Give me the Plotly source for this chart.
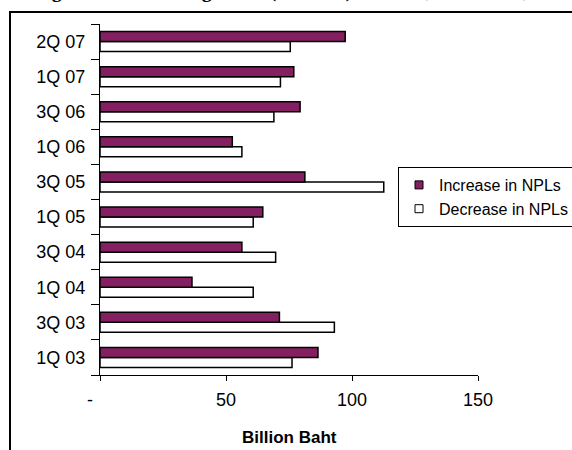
import plotly.graph_objects as go

categories = ["1Q 03", "3Q 03", "1Q 04", "3Q 04", "1Q 05",
              "3Q 05", "1Q 06", "3Q 06", "1Q 07", "2Q 07"]
increase = [86.5, 71.2, 36.5, 56.3, 64.6, 81.3, 52.5, 79.4, 76.9, 97.3]
decrease = [76.2, 93.0, 60.8, 69.7, 60.8, 112.6, 56.3, 69.0, 71.6, 75.5]
x_tickvals = [0, 50, 100, 150]
x_ticktext = ["-\u2007\u2007", "50", "100", "150"]
title_text = "Changes in Outstanding NPLs (THB bn) from 1Q 2003 to 2Q 2007"

PURPLE = "#842061"
FONT = "Liberation Sans, Arial, sans-serif"

fig = go.Figure()
# Decrease first so it sits below Increase within each group
fig.add_trace(go.Bar(y=categories, x=decrease, orientation="h", name="Decrease in NPLs",
                     marker=dict(color="white", line=dict(color="black", width=1.5)),
                     showlegend=False))
fig.add_trace(go.Bar(y=categories, x=increase, orientation="h", name="Increase in NPLs",
                     marker=dict(color=PURPLE, line=dict(color="black", width=1.5)),
                     showlegend=False))
# legend entries
fig.add_trace(go.Scatter(x=[None], y=[None], mode="markers", name="Increase in NPLs",
                         marker=dict(symbol="square", size=8, color=PURPLE,
                                     line=dict(color="black", width=1))))
fig.add_trace(go.Scatter(x=[None], y=[None], mode="markers", name="Decrease in NPLs",
                         marker=dict(symbol="square", size=8, color="white",
                                     line=dict(color="black", width=1))))

L, R, T, B = 100, 94, 24, 75
W, H = 572, 450
pw, ph = W - L - R, H - T - B

def px_x(p):
    return (p - L) / pw

def px_y(p):
    return (H - B - p) / ph

fig.update_layout(
    width=W, height=H,
    margin=dict(l=L, r=R, t=T, b=B, pad=0, autoexpand=False),
    paper_bgcolor="white", plot_bgcolor="white",
    barmode="group", bargap=0.43, bargroupgap=0,
    font=dict(family=FONT, size=16, color="black"),
    showlegend=True,
    legend=dict(xref="container", yref="container",
                x=398 / W, y=1 - 167 / H, xanchor="left", yanchor="top",
                bgcolor="white", bordercolor="black", borderwidth=1,
                font=dict(family=FONT, size=16, color="black"),
                itemsizing="trace", traceorder="normal"),
    xaxis=dict(range=[0, 150], tickvals=x_tickvals, ticktext=x_ticktext,
               showgrid=False, zeroline=False, showline=True, linecolor="black", linewidth=1,
               ticks="outside", ticklen=5, tickcolor="black", tickwidth=1,
               ticklabelstandoff=3,
               tickfont=dict(family=FONT, size=18, color="black")),
    yaxis=dict(type="category", categoryorder="array", categoryarray=categories,
               showgrid=False, zeroline=False, showline=True, linecolor="black", linewidth=1,
               ticks="outside", ticklen=8, tickcolor="black", tickwidth=1,
               tickson="boundaries", ticklabelstandoff=10,
               tickfont=dict(family=FONT, size=18, color="black")),
    shapes=[dict(type="rect", xref="paper", yref="paper",
                 x0=px_x(10), x1=px_x(800), y0=px_y(600), y1=px_y(12),
                 line=dict(color="black", width=2), fillcolor="rgba(0,0,0,0)", layer="below")],
    annotations=[
        dict(text="<b>Billion Baht</b>", xref="paper", yref="paper",
             x=0.5, y=px_y(437.5), xanchor="center", yanchor="middle", showarrow=False,
             font=dict(family=FONT, size=17, color="black")),
        dict(text="<b>" + title_text + "</b>", xref="paper", yref="paper",
             x=px_x(3), y=px_y(-9), xanchor="left", yanchor="middle",
             showarrow=False,
             font=dict(family="Liberation Serif, Times New Roman, serif", size=20,
                       color="black"))],
)

fig.write_html("out.html")
